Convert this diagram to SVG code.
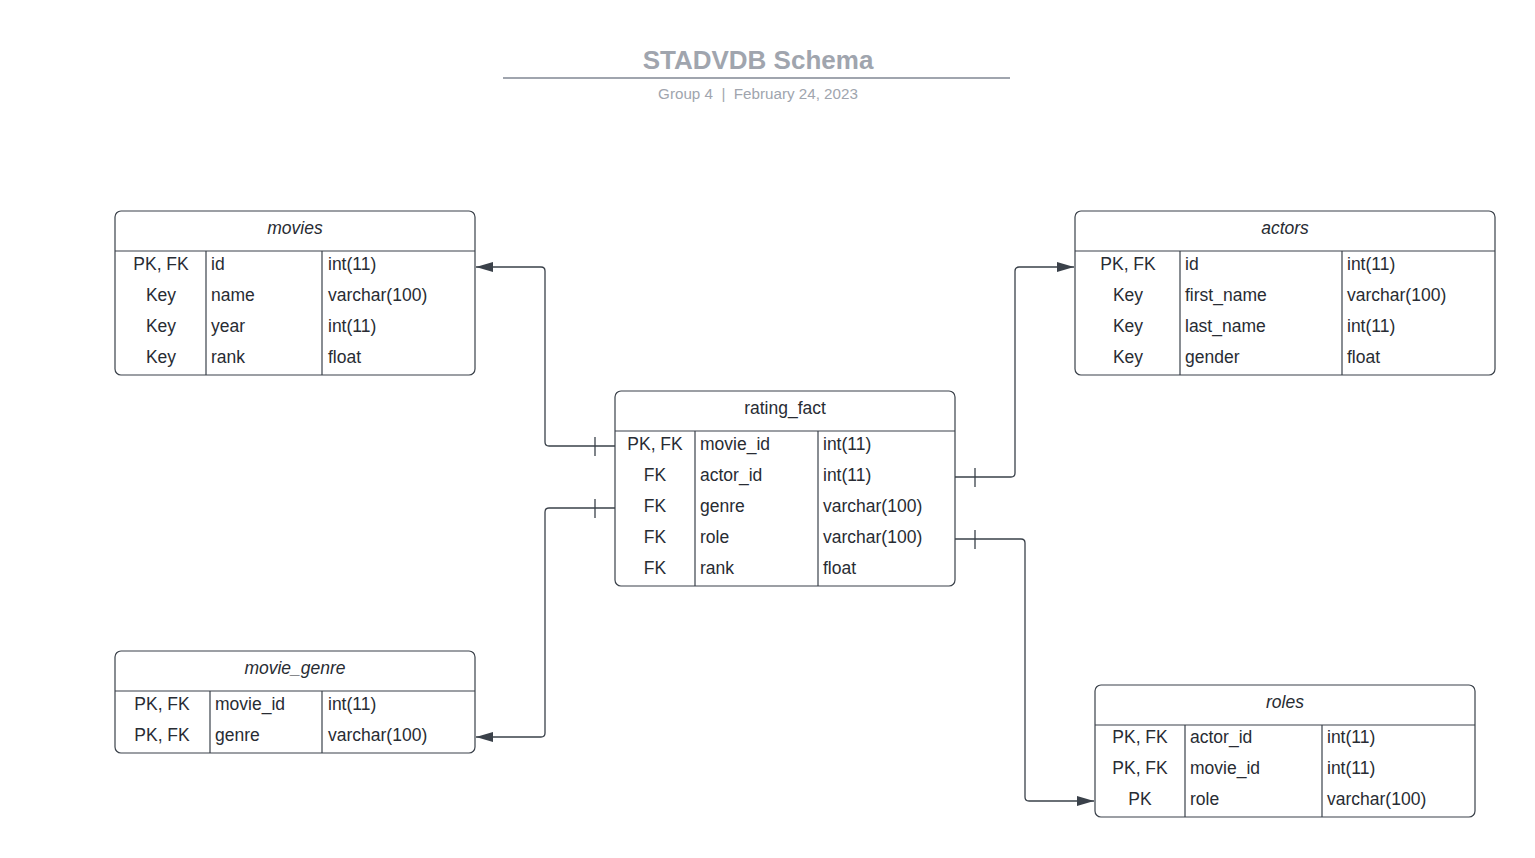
<svg xmlns="http://www.w3.org/2000/svg" width="1535" height="858" viewBox="0 0 1535 858">
<style>
.box{fill:#fff;stroke:#3a414a;stroke-width:1.2}
.ln{stroke:#3a414a;stroke-width:1.2;fill:none}
.t{font-family:"Liberation Sans",Arial,sans-serif;font-size:17.5px;fill:#282c33}
.c{text-anchor:middle}
.h{font-style:italic}
.conn{stroke:#3a414a;stroke-width:1.3;fill:none}
</style>
<defs>
<marker id="arr" markerWidth="18" markerHeight="12" refX="17" refY="6" orient="auto" markerUnits="userSpaceOnUse">
<path d="M0,1 L17,6 L0,11 Z" fill="#3a414a"/>
</marker>
</defs>
<rect width="1535" height="858" fill="#fff"/>
<g id="title">
<text x="758" y="69" text-anchor="middle" font-family="'Liberation Sans',Arial,sans-serif" font-size="26" font-weight="bold" fill="#a0a5ae">STADVDB Schema</text>
<line x1="503" y1="78" x2="1010" y2="78" stroke="#a0a5ae" stroke-width="2"/>
<text x="758" y="99" text-anchor="middle" font-family="'Liberation Sans',Arial,sans-serif" font-size="15.2" fill="#a0a5ae" xml:space="preserve">Group 4  |  February 24, 2023</text>
</g>
<g id="movies">
<rect class="box" x="115" y="211" width="360" height="164" rx="6"/>
<line class="ln" x1="115" y1="251" x2="475" y2="251"/>
<line class="ln" x1="206" y1="251" x2="206" y2="375"/>
<line class="ln" x1="322" y1="251" x2="322" y2="375"/>
<text class="t c h" x="295" y="234">movies</text>
<text class="t c" x="161" y="270">PK, FK</text><text class="t" x="211" y="270">id</text><text class="t" x="328" y="270">int(11)</text>
<text class="t c" x="161" y="301">Key</text><text class="t" x="211" y="301">name</text><text class="t" x="328" y="301">varchar(100)</text>
<text class="t c" x="161" y="332">Key</text><text class="t" x="211" y="332">year</text><text class="t" x="328" y="332">int(11)</text>
<text class="t c" x="161" y="363">Key</text><text class="t" x="211" y="363">rank</text><text class="t" x="328" y="363">float</text>
</g>
<g id="rating_fact">
<rect class="box" x="615" y="391" width="340" height="195" rx="6"/>
<line class="ln" x1="615" y1="431" x2="955" y2="431"/>
<line class="ln" x1="695" y1="431" x2="695" y2="586"/>
<line class="ln" x1="818" y1="431" x2="818" y2="586"/>
<text class="t c" x="785" y="414">rating_fact</text>
<text class="t c" x="655" y="450">PK, FK</text><text class="t" x="700" y="450">movie_id</text><text class="t" x="823" y="450">int(11)</text>
<text class="t c" x="655" y="481">FK</text><text class="t" x="700" y="481">actor_id</text><text class="t" x="823" y="481">int(11)</text>
<text class="t c" x="655" y="512">FK</text><text class="t" x="700" y="512">genre</text><text class="t" x="823" y="512">varchar(100)</text>
<text class="t c" x="655" y="543">FK</text><text class="t" x="700" y="543">role</text><text class="t" x="823" y="543">varchar(100)</text>
<text class="t c" x="655" y="574">FK</text><text class="t" x="700" y="574">rank</text><text class="t" x="823" y="574">float</text>
</g>
<g id="actors">
<rect class="box" x="1075" y="211" width="420" height="164" rx="6"/>
<line class="ln" x1="1075" y1="251" x2="1495" y2="251"/>
<line class="ln" x1="1180" y1="251" x2="1180" y2="375"/>
<line class="ln" x1="1342" y1="251" x2="1342" y2="375"/>
<text class="t c h" x="1285" y="234">actors</text>
<text class="t c" x="1128" y="270">PK, FK</text><text class="t" x="1185" y="270">id</text><text class="t" x="1347" y="270">int(11)</text>
<text class="t c" x="1128" y="301">Key</text><text class="t" x="1185" y="301">first_name</text><text class="t" x="1347" y="301">varchar(100)</text>
<text class="t c" x="1128" y="332">Key</text><text class="t" x="1185" y="332">last_name</text><text class="t" x="1347" y="332">int(11)</text>
<text class="t c" x="1128" y="363">Key</text><text class="t" x="1185" y="363">gender</text><text class="t" x="1347" y="363">float</text>
</g>
<g id="movie_genre">
<rect class="box" x="115" y="651" width="360" height="102" rx="6"/>
<line class="ln" x1="115" y1="691" x2="475" y2="691"/>
<line class="ln" x1="210" y1="691" x2="210" y2="753"/>
<line class="ln" x1="322" y1="691" x2="322" y2="753"/>
<text class="t c h" x="295" y="674">movie_genre</text>
<text class="t c" x="162" y="710">PK, FK</text><text class="t" x="215" y="710">movie_id</text><text class="t" x="328" y="710">int(11)</text>
<text class="t c" x="162" y="741">PK, FK</text><text class="t" x="215" y="741">genre</text><text class="t" x="328" y="741">varchar(100)</text>
</g>
<g id="roles">
<rect class="box" x="1095" y="685" width="380" height="132" rx="6"/>
<line class="ln" x1="1095" y1="725" x2="1475" y2="725"/>
<line class="ln" x1="1185" y1="725" x2="1185" y2="817"/>
<line class="ln" x1="1322" y1="725" x2="1322" y2="817"/>
<text class="t c h" x="1285" y="708">roles</text>
<text class="t c" x="1140" y="743">PK, FK</text><text class="t" x="1190" y="743">actor_id</text><text class="t" x="1327" y="743">int(11)</text>
<text class="t c" x="1140" y="774">PK, FK</text><text class="t" x="1190" y="774">movie_id</text><text class="t" x="1327" y="774">int(11)</text>
<text class="t c" x="1140" y="805">PK</text><text class="t" x="1190" y="805">role</text><text class="t" x="1327" y="805">varchar(100)</text>
</g>
<g id="connectors">
<path class="conn" d="M615,446 H549 Q545,446 545,442 V271 Q545,267 541,267 H476" marker-end="url(#arr)"/>
<line class="conn" x1="595" y1="437" x2="595" y2="456"/>
<path class="conn" d="M615,508 H549 Q545,508 545,512 V733 Q545,737 541,737 H476" marker-end="url(#arr)"/>
<line class="conn" x1="595" y1="499" x2="595" y2="518"/>
<path class="conn" d="M955,477 H1011 Q1015,477 1015,473 V271 Q1015,267 1019,267 H1074" marker-end="url(#arr)"/>
<line class="conn" x1="975" y1="468" x2="975" y2="487"/>
<path class="conn" d="M955,539 H1021 Q1025,539 1025,543 V797 Q1025,801 1029,801 H1094" marker-end="url(#arr)"/>
<line class="conn" x1="975" y1="530" x2="975" y2="549"/>
</g>
</svg>
